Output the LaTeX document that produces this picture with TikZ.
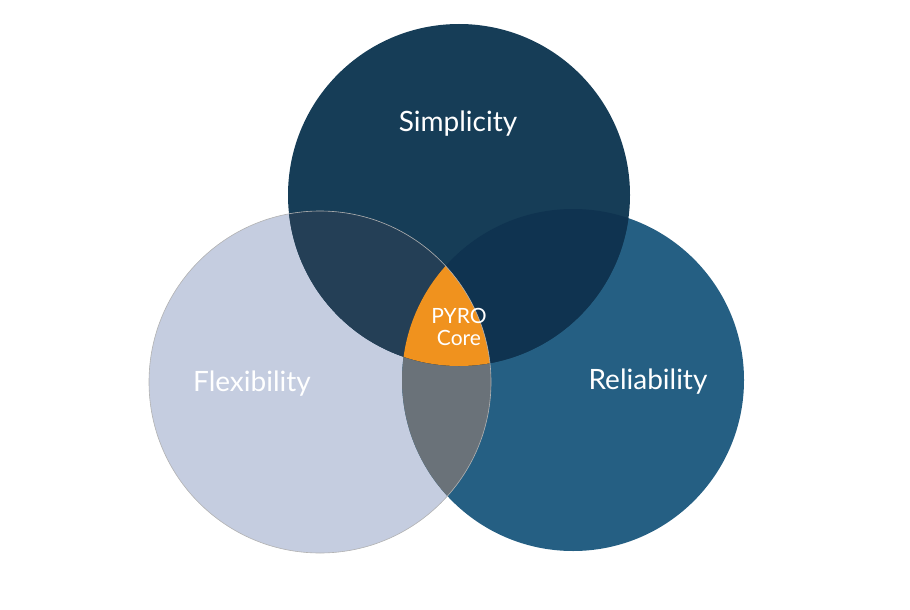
\documentclass[tikz,border=0pt]{standalone}
\usepackage{fontspec}
\setmainfont{Lato}
\definecolor{topblue}{HTML}{163D57}
\definecolor{leftblue}{HTML}{C5CDE0}
\definecolor{rightblue}{HTML}{255F83}
\definecolor{tlblue}{HTML}{243F56}
\definecolor{trblue}{HTML}{0F3350}
\definecolor{lrgray}{HTML}{6A7279}
\definecolor{coreorange}{HTML}{F0921E}
\tikzset{
  lbl/.style={text=white, font=\fontsize{28}{30}\selectfont},
  corelbl/.style={text=white, align=center, font=\fontsize{21}{22}\selectfont}
}
\begin{document}
\begin{tikzpicture}[x=1pt,y=1pt]
\useasboundingbox (0,0) rectangle (910,-610);
% circle centres
\coordinate (ctop) at (459,-195);
\coordinate (cleft) at (320,-382);
\coordinate (cright) at (573,-380);
\def\rad{171}
% base circles
\fill[leftblue] (cleft) circle (\rad);
\fill[rightblue] (cright) circle (\rad);
\fill[topblue] (ctop) circle (\rad);
% overlaps
\begin{scope}
  \clip (cleft) circle (\rad);
  \fill[lrgray] (cright) circle (\rad);
  \fill[tlblue] (ctop) circle (\rad);
\end{scope}
\begin{scope}
  \clip (cright) circle (\rad);
  \fill[trblue] (ctop) circle (\rad);
  \clip (cleft) circle (\rad);
  \fill[coreorange] (ctop) circle (\rad);
\end{scope}
\draw[gray!60, line width=0.6pt] (cleft) circle (\rad);
% labels
\node[lbl] (simp) at (458,-124) {Simplicity};
\node[lbl] (flex) at (252,-384) {Flexibility};
\node[lbl] (reli) at (648,-382) {Reliability};
\node[corelbl] (core) at (459,-327) {PYRO\\Core};
\end{tikzpicture}
\end{document}
